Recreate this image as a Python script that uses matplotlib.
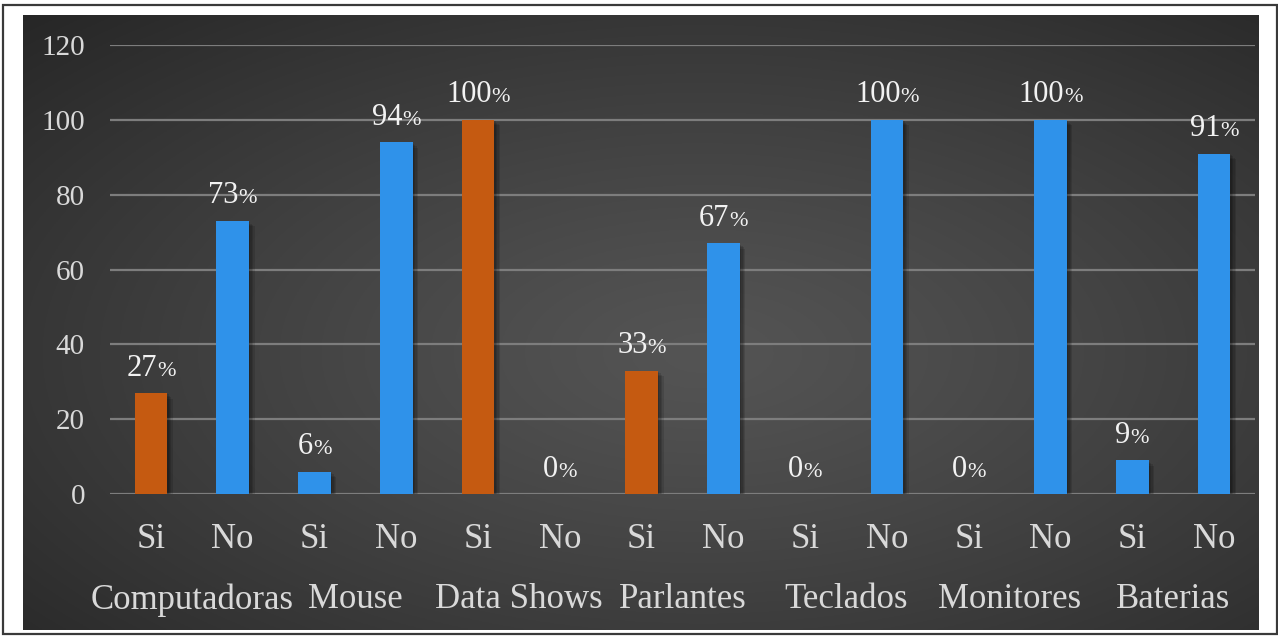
import numpy as np
import matplotlib.pyplot as plt
from matplotlib import patheffects
from matplotlib.offsetbox import TextArea, HPacker, AnnotationBbox
from matplotlib.patches import Rectangle

plt.rcParams['font.family'] = ['Liberation Serif', 'DejaVu Serif']

equipos = ['Computadoras', 'Mouse', 'Data Shows', 'Parlantes',
           'Teclados', 'Monitores', 'Baterias']
respuestas = ['Si', 'No']
si_pct = [27, 6, 100, 33, 0, 0, 9]
no_pct = [73, 94, 0, 67, 100, 100, 91]
# equipos whose "Si" bar is drawn in orange
resaltados = ['Computadoras', 'Data Shows', 'Parlantes']

naranja = '#c55a11'
azul = '#2f92ea'

W, H = 1278, 636
fig = plt.figure(figsize=(W / 100, H / 100), dpi=100)
fig.patch.set_facecolor('white')

# outer frame
fig.add_artist(Rectangle((3 / W, 2 / H), 1274 / W, 629 / H, transform=fig.transFigure,
                         fill=False, edgecolor='#3a3a3a', lw=1.6))

# dark panel with a radial gradient, lighter towards the middle
bg = fig.add_axes([23 / W, 1 - 630 / H, (1259 - 23) / W, (630 - 15) / H])
bg.axis('off')
yy, xx = np.mgrid[0:1:300j, 0:1:600j]
r = np.sqrt(((xx - 0.55) * 1.8) ** 2 + ((yy - 0.55) * 1.8) ** 2) / np.sqrt(2)
r = np.clip(r, 0, 1)
g = (84 - 46 * r ** 1.2) / 255
bg.imshow(np.dstack([g, g, g]), extent=[0, 1, 0, 1], aspect='auto', origin='upper')
bg.set_xlim(0, 1)
bg.set_ylim(0, 1)

ax = fig.add_axes([110 / W, 1 - 494 / H, 1145 / W, (494 - 45) / H])
ax.set_facecolor('none')

valores = []
colores = []
etiquetas = []
for eq, s, n in zip(equipos, si_pct, no_pct):
    valores += [s, n]
    colores += [naranja if eq in resaltados else azul, azul]
    etiquetas += respuestas
x = np.arange(len(valores))

bars = ax.bar(x, valores, width=0.4, color=colores, zorder=3)
# soft drop shadow: a few stacked offsets with low alpha
sombra = [patheffects.SimplePatchShadow(offset=(d, -d), shadow_rgbFace='black', alpha=0.12)
          for d in (1, 2, 3, 4)]
for b in bars:
    b.set_path_effects(sombra + [patheffects.Normal()])

ax.set_xlim(-0.5, len(valores) - 0.5)
ax.set_ylim(0, 120)
ax.set_yticks(range(0, 121, 20))
ax.yaxis.grid(True, color='#7d7d7d', lw=1.6, zorder=1)
ax.set_xticks([])
for s in ax.spines.values():
    s.set_visible(False)
ax.tick_params(axis='y', length=0, pad=18, labelsize=21, labelcolor='#d9d9d9')

# value labels: number followed by a smaller percent sign
for xi, v in zip(x, valores):
    caja = HPacker(children=[TextArea(str(v), textprops=dict(size=22, color='#f2f2f2')),
                             TextArea('%', textprops=dict(size=16, color='#f2f2f2'))],
                   align='baseline', pad=0, sep=0)
    ab = AnnotationBbox(caja, (xi, v), xybox=(0, 7.5), xycoords='data',
                        boxcoords='offset points', box_alignment=(0.5, 0),
                        frameon=False, zorder=5)
    ax.add_artist(ab)

# two-level category axis
trans = ax.get_xaxis_transform()
for xi, lab in zip(x, etiquetas):
    ax.text(xi, -45 / 449, lab, transform=trans, ha='center', va='center',
            fontsize=25, color='#d9d9d9')
for i, eq in enumerate(equipos):
    ax.text(2 * i + 0.5, -106 / 449, eq, transform=trans, ha='center', va='center',
            fontsize=25, color='#d9d9d9')

fig.savefig('out.png', dpi=100, facecolor='white')
